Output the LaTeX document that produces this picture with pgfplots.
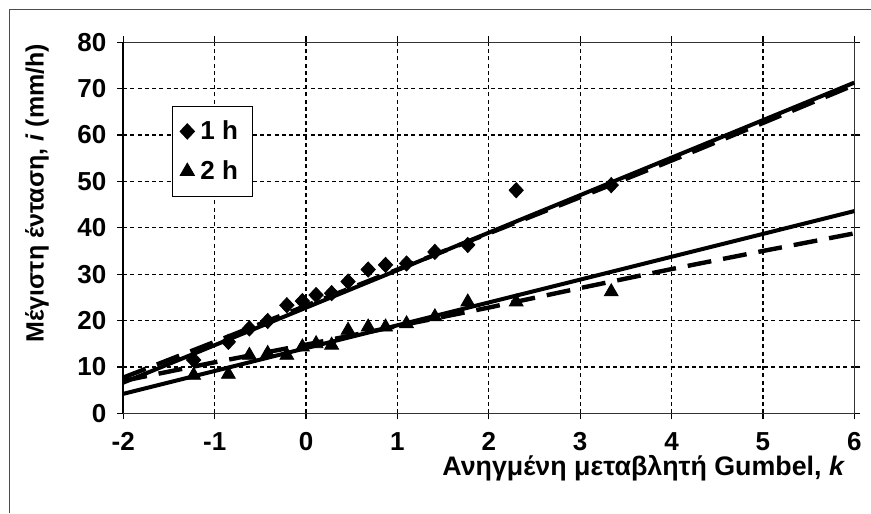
\documentclass[border=0pt]{standalone}
\usepackage{fontspec}
\setmainfont{Liberation Sans}
\usepackage{pgfplots}
\pgfplotsset{compat=1.18}
\begin{document}
\begin{tikzpicture}
\useasboundingbox (-61.65pt,-49.85pt) rectangle (373.85pt,206.65pt);
\draw[line width=0.5pt, black!70] (-56.65pt,-49.85pt) -- (-56.65pt,201.65pt) -- (373.85pt,201.65pt);
\begin{axis}[
  at={(0pt,0pt)}, anchor=south west,
  scale only axis, width=365.5pt, height=185.5pt,
  xmin=-2, xmax=6, ymin=0, ymax=80,
  xtick={-2,...,6}, ytick={0,10,...,80},
  font=\fontsize{13}{15}\selectfont\bfseries,
  /pgf/number format/assume math mode=true,
  tick label style={font=\fontsize{13}{15}\selectfont\bfseries},
  yticklabel style={xshift=-2pt},
  xticklabel style={yshift=-3pt},
  tick align=outside, major tick length=3pt,
  tick style={black, line width=0.6pt},
  axis line style={line width=0.5pt, black!80},
  grid=major,
  major grid style={black, line width=0.6pt, dash pattern=on 2pt off 1.6pt},
  xlabel={Ανηγμένη μεταβλητή Gumbel, \textit{k}},
  ylabel={Μέγιστη ένταση, \textit{i} (mm/h)},
  xlabel style={at={(axis description cs:0.712,-0.1475)}, anchor=center, font=\fontsize{13.4}{15}\selectfont\bfseries},
  ylabel style={at={(axis description cs:-0.1180,0.594)}, anchor=center, font=\fontsize{12.5}{14}\selectfont\bfseries},
  legend style={at={(axis description cs:0.0662,0.8283)}, anchor=north west,
    draw=black, line width=0.5pt, font=\fontsize{13}{15}\selectfont\bfseries,
    row sep=5pt, inner xsep=4pt, inner ysep=5pt, legend cell align=left,
    nodes={inner xsep=3pt}},
  clip=false,
]
\draw[line width=1.1pt] (rel axis cs:0,0) -- (rel axis cs:0,1);
% regression lines
\addplot[black, line width=2pt, forget plot] coordinates {(-2,6.6) (6,71.3)};
\addplot[black, line width=2.2pt, dash pattern=on 12pt off 6pt, forget plot] coordinates {
(-2,7.7) (-1,15.4) (0,23.2) (1,31.0) (2,38.8) (3,46.6) (4,54.5) (5,62.6) (6,70.8)};
\addplot[black, line width=2pt, forget plot] coordinates {(-2,4.2) (6,43.6)};
\addplot[black, line width=2.2pt, dash pattern=on 12pt off 6pt, forget plot] coordinates {
(-2,7.0) (-1.5,9.0) (-1,11.0) (0,14.8) (1,18.8) (2,22.8) (3,27.0) (4,31.1) (5,35.0) (6,38.8)};
% data
\addplot[only marks, mark=diamond*, mark size=3.8pt, mark options={fill=black, draw=black, xscale=1.25}] coordinates {
(-1.23,11.5) (-0.85,15.4) (-0.62,18.3) (-0.42,19.9) (-0.21,23.3) (-0.04,24.2)
(0.11,25.5) (0.28,25.9) (0.46,28.4) (0.68,31.0) (0.87,32.0) (1.10,32.3)
(1.41,34.8) (1.77,36.3) (2.30,48.1) (3.34,49.2)};
\addlegendentry{1 h}
\addplot[only marks, mark=triangle*, mark size=4pt, mark options={fill=black, draw=black}] coordinates {
(-1.23,8.2) (-0.85,8.4) (-0.62,12.5) (-0.42,12.9) (-0.21,12.5) (-0.04,14.3)
(0.11,15.0) (0.28,14.7) (0.46,17.9) (0.68,18.6) (0.87,18.6) (1.10,19.3)
(1.41,20.8) (1.77,24.0) (2.30,24.0) (3.34,26.2)};
\addlegendentry{2 h}
\end{axis}
\end{tikzpicture}
\end{document}
